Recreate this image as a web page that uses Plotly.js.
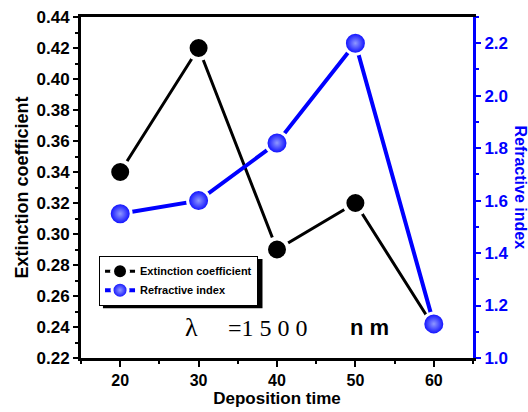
<!DOCTYPE html>
<html>
<head>
<meta charset="utf-8">
<script src="https://cdn.plot.ly/plotly-3.0.1.min.js"></script>
<style>html,body{margin:0;padding:0;background:#fff;}#chart{width:528px;height:412px;}</style>
</head>
<body>
<div id="chart"></div>
<script>
const depositionTime = [20, 30, 40, 50, 60];
const extinctionCoefficient = [0.34, 0.42, 0.29, 0.32, 0.24];
const refractiveIndex = [1.55, 1.60, 1.82, 2.20, 1.13];
const leftTicks = [0.22, 0.24, 0.26, 0.28, 0.30, 0.32, 0.34, 0.36, 0.38, 0.40, 0.42, 0.44];
const rightTicks = [1.0, 1.2, 1.4, 1.6, 1.8, 2.0, 2.2];
const xTicks = [20, 30, 40, 50, 60];

const F = 'Arial, "Liberation Sans", sans-serif';

const traces = [
  {
    x: depositionTime, y: extinctionCoefficient, name: 'Extinction coefficient',
    type: 'scatter', mode: 'lines+markers', yaxis: 'y',
    line: {color: '#000', width: 3},
    marker: {color: '#000', size: 22, line: {color: '#fff', width: 4}}
  },
  {
    x: depositionTime, y: refractiveIndex, name: 'Refractive index',
    type: 'scatter', mode: 'lines+markers', yaxis: 'y2',
    line: {color: '#0000ff', width: 4},
    marker: {color: '#0000ff', size: 22, gradient: {type: 'radial', color: '#8f98ff'}, line: {color: '#fff', width: 3}}
  }
];

const layout = {
  width: 528, height: 412,
  margin: {l: 81, r: 55, t: 17, b: 54},
  paper_bgcolor: '#fff', plot_bgcolor: '#fff',
  showlegend: true,
  font: {family: F, color: '#000'},
  xaxis: {
    range: [15, 65], tickvals: xTicks, ticks: 'outside', ticklen: 6, tickwidth: 2, tickcolor: '#000',
    showline: true, linecolor: '#000', linewidth: 3, mirror: true, showgrid: false, zeroline: false,
    tickfont: {family: F, size: 16, color: '#000', weight: 'bold'},
    minor: {dtick: 5, tick0: 15, ticks: 'outside', ticklen: 3, tickwidth: 2, tickcolor: '#000', showgrid: false},
    title: {text: '<b>Deposition time</b>', font: {family: F, size: 17, color: '#000'}, standoff: 2}
  },
  xaxis2: {
    overlaying: 'x', side: 'top', anchor: 'y', range: [15, 65], tickvals: xTicks, ticks: 'inside', ticklen: 5, tickwidth: 2,
    tickcolor: '#000', showticklabels: false, showline: false, showgrid: false, zeroline: false,
    minor: {dtick: 5, tick0: 15, ticks: 'inside', ticklen: 3, tickwidth: 2, tickcolor: '#000', showgrid: false}
  },
  yaxis: {
    range: [0.22, 0.44], tickvals: leftTicks, tickformat: '.2f', ticks: 'outside', ticklen: 5, tickwidth: 2, tickcolor: '#000',
    showline: true, linecolor: '#000', linewidth: 3, showgrid: false, zeroline: false,
    tickfont: {family: F, size: 17, color: '#000', weight: 'bold'},
    minor: {dtick: 0.01, tick0: 0.22, ticks: 'outside', ticklen: 3, tickwidth: 2, tickcolor: '#000', showgrid: false},
    title: {text: '<b>Extinction coefficient</b>', font: {family: F, size: 18, color: '#000'}, standoff: 4}
  },
  yaxis2: {
    overlaying: 'y', side: 'right', range: [1.0, 2.3], tickvals: rightTicks, tickformat: '.1f',
    ticks: 'outside', ticklen: 5, tickwidth: 2, tickcolor: '#0000ff',
    showline: true, linecolor: '#0000ff', linewidth: 3, showgrid: false, zeroline: false,
    tickfont: {family: F, size: 17, color: '#0000ff', weight: 'bold'},
    minor: {dtick: 0.1, tick0: 1.0, ticks: 'outside', ticklen: 3, tickwidth: 2, tickcolor: '#0000ff', showgrid: false}
  },
  legend: {
    x: 0.046, y: 0.3, xanchor: 'left', yanchor: 'top',
    bgcolor: '#fff', bordercolor: '#000', borderwidth: 1,
    font: {family: F, size: 11, color: '#000', weight: 'bold'},
    tracegroupgap: 0, itemwidth: 30
  },
  shapes: [
    {type: 'rect', xref: 'paper', yref: 'paper', x0: 0.056, x1: 0.463, y0: 0.146, y1: 0.29,
     fillcolor: '#000', line: {width: 0}, layer: 'above'}
  ],
  annotations: [
    {xref: 'paper', yref: 'paper', x: 1.12, y: 0.5, text: '<b>Refractive index</b>', textangle: 90,
     showarrow: false, font: {family: F, size: 16, color: '#0000ff'}, xanchor: 'center', yanchor: 'middle'},
    {xref: 'paper', yref: 'paper', x: 0.283, y: 0.088, text: 'λ', showarrow: false,
     font: {family: '"Liberation Serif", "Times New Roman", serif', size: 26, color: '#000'}, xanchor: 'center', yanchor: 'middle'},
    {xref: 'paper', yref: 'paper', x: 0.477, y: 0.088, text: '=1 5 0 0', showarrow: false,
     font: {family: '"Liberation Serif", "Times New Roman", serif', size: 24, color: '#000'}, xanchor: 'center', yanchor: 'middle'},
    {xref: 'paper', yref: 'paper', x: 0.737, y: 0.088, text: '<b>n m</b>', showarrow: false,
     font: {family: F, size: 22, color: '#000'}, xanchor: 'center', yanchor: 'middle'}
  ]
};

Plotly.newPlot('chart', traces, layout, {displayModeBar: false, staticPlot: true});
</script>
</body>
</html>
